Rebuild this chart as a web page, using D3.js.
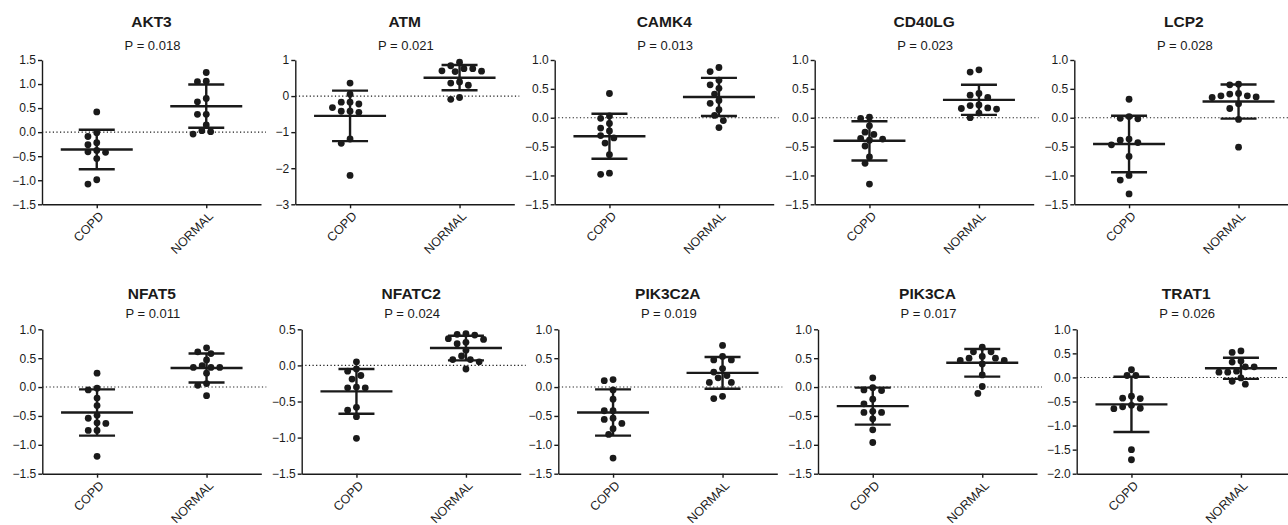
<!DOCTYPE html>
<html><head><meta charset="utf-8">
<script src="https://cdn.jsdelivr.net/npm/d3@7"></script>
<style>
body{margin:0;background:#fff}
svg{display:block}
text{font-family:"Liberation Sans",Arial,Helvetica,sans-serif;fill:#1a1a1a}
</style>
</head><body><svg width="1288" height="525"></svg>
<script>
const genes = ["AKT3","ATM","CAMK4","CD40LG","LCP2","NFAT5","NFATC2","PIK3C2A","PIK3CA","TRAT1"];
const pValues = ["0.018","0.021","0.013","0.023","0.028","0.011","0.024","0.019","0.017","0.026"];
const groups = ["COPD","NORMAL"];
const yMin = [-1.5,-3,-1.5,-1.5,-1.5,-1.5,-1.5,-1.5,-1.5,-2.0];
const yMax = [1.5,1,1,1,1,1,0.5,1,1,1];
const yStep = [0.5,1,0.5,0.5,0.5,0.5,0.5,0.5,0.5,0.5];

const copdValues = [
  [0.42,-0.01,-0.09,-0.22,-0.26,-0.38,-0.42,-0.41,-0.55,-1.08,-0.99],
  [0.36,0.05,-0.17,-0.22,-0.17,-0.32,-0.42,-0.45,-0.42,-1.19,-1.31,-2.20],
  [0.42,-0.01,0.03,-0.10,-0.18,-0.31,-0.35,-0.23,-0.44,-0.64,-0.98,-0.96],
  [0.01,-0.01,-0.14,-0.25,-0.29,-0.37,-0.39,-0.36,-0.49,-0.68,-0.79,-1.15],
  [0.32,0.02,-0.02,-0.01,-0.37,-0.43,-0.47,-0.39,-0.67,-1.00,-1.08,-1.32],
  [0.24,-0.05,-0.02,-0.19,-0.32,-0.54,-0.49,-0.62,-0.63,-0.75,-0.75,-1.20],
  [0.05,-0.08,-0.05,-0.19,-0.14,-0.31,-0.31,-0.30,-0.62,-0.58,-0.71,-1.01],
  [0.11,0.13,-0.05,-0.21,-0.41,-0.41,-0.54,-0.56,-0.63,-0.72,-0.82,-1.23],
  [0.16,-0.01,-0.06,-0.05,-0.21,-0.29,-0.44,-0.44,-0.42,-0.55,-0.74,-0.96],
  [0.16,0.04,0.04,-0.43,-0.44,-0.39,-0.61,-0.65,-0.64,-0.58,-1.50,-1.71]
];
const normalValues = [
  [1.24,1.06,1.05,0.70,0.63,0.37,0.37,0.15,0.03,-0.04,0.01],
  [0.94,0.76,0.69,0.68,0.70,0.76,0.84,0.36,0.30,0.39,-0.09,-0.04],
  [0.87,0.80,0.65,0.57,0.51,0.41,0.30,0.25,0.14,0.04,-0.05,-0.17],
  [0.83,0.79,0.42,0.39,0.35,0.22,0.15,0.17,0.21,0.16,0.08,0.00],
  [0.57,0.58,0.42,0.38,0.36,0.35,0.38,0.41,0.16,0.24,-0.03,-0.51],
  [0.68,0.58,0.61,0.47,0.37,0.34,0.34,0.34,0.24,0.06,0.03,-0.15],
  [0.43,0.42,0.44,0.36,0.37,0.30,0.32,0.21,0.08,0.13,0.05,0.08,-0.05],
  [0.72,0.47,0.47,0.53,0.32,0.26,0.20,0.16,0.08,0.08,-0.20,-0.16],
  [0.69,0.61,0.61,0.50,0.46,0.40,0.46,0.50,0.53,0.21,0.01,-0.11],
  [0.55,0.52,0.34,0.32,0.22,0.22,0.11,0.11,0.13,-0.01,-0.14,-0.08]
];
const copdMean = [-0.36,-0.55,-0.32,-0.40,-0.455,-0.44,-0.36,-0.44,-0.33,-0.56];
const copdSD   = [0.41,0.70,0.39,0.34,0.49,0.40,0.31,0.40,0.32,0.575];
const normalMean = [0.54,0.51,0.36,0.31,0.28,0.33,0.24,0.245,0.42,0.19];
const normalSD   = [0.45,0.35,0.33,0.26,0.295,0.25,0.17,0.275,0.24,0.22];

const svg = d3.select("svg");
const W = 219;
const rowTop = [60, 329.3], rowBottom = [204.3, 473.7];
const titleY = [27.3, 298.7], pY = [50, 318];
const axisLeft = [[42,295.3,554.7,814.7,1074.3],[42.3,301.7,558.3,818,1076.7]];
const ink = "#1a1a1a";

function swarm(vals, y, step, d) {
  const idx = vals.map((v,i)=>i).sort((a,b)=>vals[b]-vals[a]);
  const placed = [], off = new Array(vals.length).fill(0);
  idx.forEach(i => {
    const py = y(vals[i]);
    for (let k = 0; k < 40; k++) {
      const cands = k === 0 ? [0] : [-k*step, k*step];
      let found = null;
      for (const c of cands) {
        if (placed.every(p => Math.hypot(p.x - c, p.y - py) >= d)) { found = c; break; }
      }
      if (found !== null) { off[i] = found; placed.push({x: found, y: py}); break; }
    }
  });
  return off;
}

genes.forEach((gene, i) => {
  const row = Math.floor(i / 5), col = i % 5;
  const x0 = axisLeft[row][col];
  const g = svg.append("g").attr("transform", `translate(${x0},0)`);
  const y = d3.scaleLinear().domain([yMin[i], yMax[i]]).range([rowBottom[row], rowTop[row]]);
  const x = d3.scalePoint().domain(groups).range([0, W]).padding(0.5);
  const n = Math.round((yMax[i] - yMin[i]) / yStep[i]);
  const ticks = d3.range(n + 1).map(k => +(yMin[i] + k * yStep[i]).toFixed(2));
  const fmt = yStep[i] >= 1 ? d3.format("d") : d3.format(".1f");

  // titles
  g.append("text").attr("x", W/2).attr("y", titleY[row]).attr("text-anchor","middle")
    .style("font-size","15.5px").style("font-weight","bold").text(gene);
  g.append("text").attr("x", W/2 + 1).attr("y", pY[row]).attr("text-anchor","middle")
    .style("font-size","13px").text("P = " + pValues[i]);

  // zero dotted line
  g.append("line").attr("x1", 0).attr("x2", W + 5).attr("y1", y(0)).attr("y2", y(0))
    .attr("stroke", ink).attr("stroke-width", 1.1).attr("stroke-dasharray", "1.2,2.4");

  // y axis
  const ya = g.append("g").call(d3.axisLeft(y).tickValues(ticks).tickFormat(fmt).tickSize(4).tickSizeOuter(0).tickPadding(2));
  ya.select(".domain").attr("stroke", ink).attr("stroke-width", 1.4);
  ya.selectAll(".tick line").attr("stroke", ink).attr("stroke-width", 1.4);
  ya.selectAll(".tick text").style("font-size","12px").attr("fill", ink);

  // x axis
  const xa = g.append("g").attr("transform", `translate(0,${rowBottom[row]})`)
    .call(d3.axisBottom(x).tickSize(4).tickSizeOuter(0));
  xa.select(".domain").attr("stroke", ink).attr("stroke-width", 1.4);
  xa.selectAll(".tick line").attr("stroke", ink).attr("stroke-width", 1.4);
  xa.selectAll(".tick text").style("font-size","12.5px").attr("fill", ink)
    .attr("text-anchor","end").attr("x", 0).attr("y", 0).attr("dy", "0.35em")
    .attr("transform", "translate(4,9.5) rotate(-45)");

  // points and bars
  const sets = [
    {grp: "COPD", vals: copdValues[i], mean: copdMean[i], sd: copdSD[i]},
    {grp: "NORMAL", vals: normalValues[i], mean: normalMean[i], sd: normalSD[i]}
  ];
  sets.forEach(s => {
    const cx = x(s.grp);
    const offs = swarm(s.vals, y, 4.4, 7.0);
    g.append("g").selectAll("circle").data(s.vals).join("circle")
      .attr("cx", (d, j) => cx + offs[j]).attr("cy", d => y(d)).attr("r", 3.4).attr("fill", ink);
    const bars = g.append("g").attr("stroke", ink).attr("stroke-width", 2.4);
    bars.append("line").attr("x1", cx - 36).attr("x2", cx + 36).attr("y1", y(s.mean)).attr("y2", y(s.mean));
    bars.append("line").attr("x1", cx).attr("x2", cx).attr("y1", y(s.mean + s.sd)).attr("y2", y(s.mean - s.sd));
    [s.mean + s.sd, s.mean - s.sd].forEach(v => {
      bars.append("line").attr("x1", cx - 18).attr("x2", cx + 18).attr("y1", y(v)).attr("y2", y(v));
    });
  });
});
</script>
</body></html>
